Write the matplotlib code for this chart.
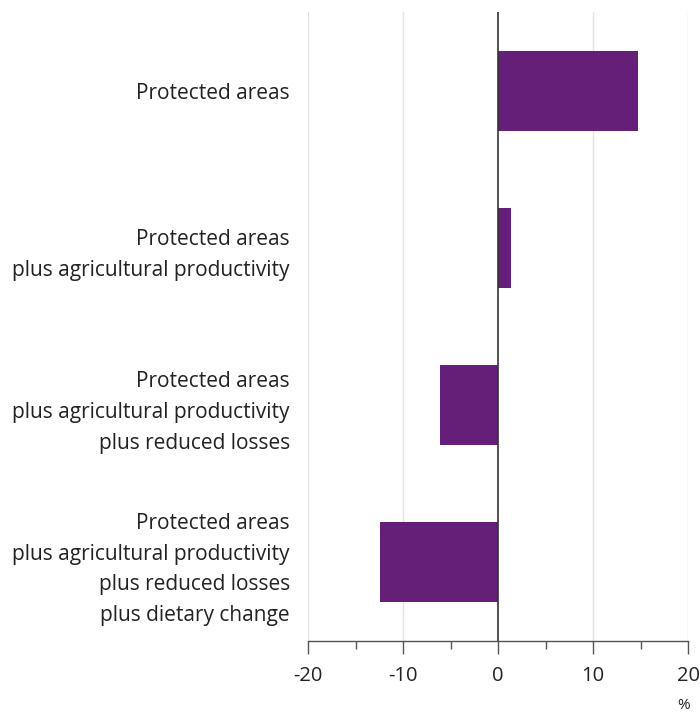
import matplotlib
matplotlib.use('Agg')
import matplotlib.pyplot as plt
from matplotlib.ticker import MultipleLocator

# data
categories = [
    "Protected areas",
    "Protected areas\nplus agricultural productivity",
    "Protected areas\nplus agricultural productivity\nplus reduced losses",
    "Protected areas\nplus agricultural productivity\nplus reduced losses\nplus dietary change",
]
values = [14.7, 1.4, -6.1, -12.4]
xticks = [-20, -10, 0, 10, 20]

plt.rcParams['font.family'] = ['Open Sans', 'DejaVu Sans']

fig = plt.figure(figsize=(7, 7.15), dpi=100)
ax = fig.add_axes([0.44, 0.1035, 0.543, 0.8795])

pos = list(range(len(categories)))
ax.barh(pos, values, height=0.51, color='#661f78', zorder=3)

ax.set_xlim(-20, 20)
ax.set_ylim(3.5, -0.5)
ax.set_xticks(xticks)
ax.set_xticklabels([str(t) for t in xticks])
ax.xaxis.set_minor_locator(MultipleLocator(5))
ax.set_yticks(pos)
ax.set_yticklabels(categories, fontsize=15, color='#222222', linespacing=1.6)
ax.tick_params(axis='y', length=0, pad=13)
ax.tick_params(axis='x', which='major', length=9, width=1, color='#555555',
               labelsize=14.5, labelcolor='#222222', pad=9)
ax.tick_params(axis='x', which='minor', length=6, width=1, color='#555555')

for g in [-20, -10, 10, 20]:
    ax.axvline(g, color='#e3e3e3', lw=1, zorder=1)
ax.axvline(0, color='#333333', lw=1.2, zorder=4)

for s in ['top', 'right', 'left']:
    ax.spines[s].set_visible(False)
ax.spines['bottom'].set_color('#555555')
ax.spines['bottom'].set_linewidth(1)

fig.text(0.977, 0.003, '%', fontsize=11, color='#222222', ha='center', va='bottom')

fig.savefig('out.png', dpi=100)
